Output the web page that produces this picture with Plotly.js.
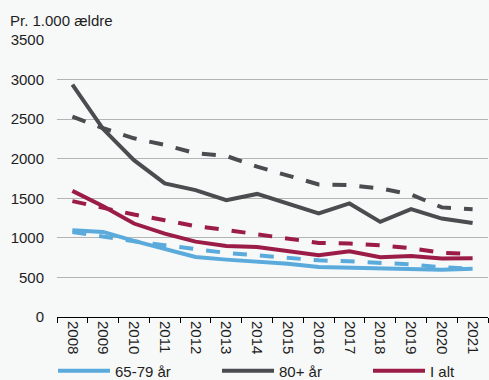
<!DOCTYPE html>
<html>
<head>
<meta charset="utf-8">
<script src="https://cdn.plot.ly/plotly-3.0.1.min.js"></script>
<style>html,body{margin:0;padding:0;background:#f7f8f8;}#chart{width:489px;height:380px;}</style>
</head>
<body>
<div id="chart"></div>
<script>
const years = ['2008','2009','2010','2011','2012','2013','2014','2015','2016','2017','2018','2019','2020','2021'];
const seriesNames = ['65-79 år', '80+ år', 'I alt'];
const age6579 = [1096, 1075, 961, 855, 758, 725, 703, 674, 631, 624, 615, 600, 598, 611];
const age6579Dashed = [1075, 1011, 957, 906, 855, 810, 779, 750, 716, 703, 685, 665, 628, 612];
const age80 = [2935, 2375, 1982, 1688, 1603, 1477, 1555, 1435, 1308, 1435, 1202, 1362, 1244, 1189];
const age80Dashed = [2532, 2385, 2258, 2174, 2070, 2035, 1899, 1781, 1675, 1667, 1625, 1549, 1385, 1360];
const total = [1594, 1400, 1181, 1054, 952, 897, 885, 834, 779, 830, 755, 771, 739, 741];
const totalDashed = [1464, 1379, 1295, 1223, 1147, 1100, 1046, 982, 936, 928, 906, 868, 812, 795];
const yTicks = [0, 500, 1000, 1500, 2000, 2500, 3000, 3500];
const colors = ['#5aabdc', '#4b4c50', '#9b1d47'];
const legendWidths = [97, 84, 40];

const solid = [age6579, age80, total];
const dashed = [age6579Dashed, age80Dashed, totalDashed];
const traces = [];
dashed.forEach((vals, i) => traces.push({
  x: years, y: vals, type: 'scatter', mode: 'lines', showlegend: false, hoverinfo: 'skip',
  line: {color: colors[i], width: 4, dash: '14px,13px'}
}));
solid.forEach((vals, i) => traces.push({
  x: years, y: vals, type: 'scatter', mode: 'lines', name: seriesNames[i],
  legendwidth: legendWidths[i],
  line: {color: colors[i], width: 4}
}));

const font = {family: 'Liberation Sans, Arial, sans-serif', size: 15, color: '#1e1e1e'};
const layout = {
  width: 489, height: 380,
  margin: {l: 57, r: 1, t: 40, b: 63},
  paper_bgcolor: '#f7f8f8', plot_bgcolor: '#f7f8f8',
  font: font,
  title: {text: 'Pr. 1.000 ældre', font: font, xref: 'container', yref: 'container',
          x: 10/489, xanchor: 'left', y: 1 - 21/380, yanchor: 'middle'},
  xaxis: {type: 'category', range: [-0.5, 13.5], showgrid: false, showline: true,
          linecolor: '#000', linewidth: 1, ticks: 'outside', tickson: 'boundaries',
          ticklen: 5, tickcolor: '#000', tickwidth: 1, tickangle: 90, tickfont: font,
          fixedrange: true},
  yaxis: {range: [0, 3500], tickvals: yTicks, ticktext: yTicks.map(String), showgrid: true,
          gridcolor: '#b4b4b4', gridwidth: 1, zeroline: false, showline: false,
          ticklabelstandoff: 12, tickfont: font, fixedrange: true},
  legend: {orientation: 'h', xref: 'container', yref: 'container', x: 53/489, xanchor: 'left',
           y: 1 - 371/380, yanchor: 'middle', itemwidth: 52, font: font,
           bgcolor: 'rgba(0,0,0,0)', traceorder: 'normal'},
  showlegend: true
};
Plotly.newPlot('chart', traces, layout, {displayModeBar: false, staticPlot: true});
</script>
</body>
</html>
